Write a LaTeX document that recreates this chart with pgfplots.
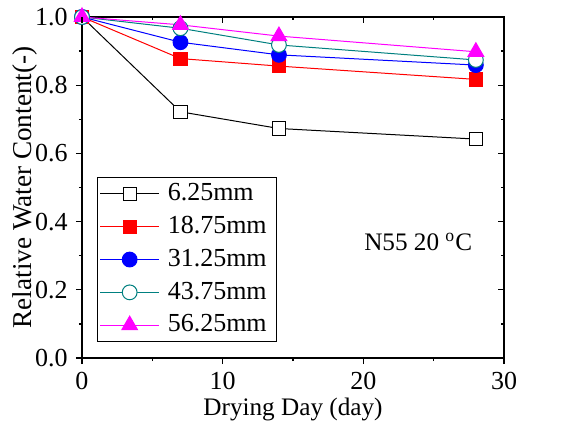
\documentclass[border=0pt]{standalone}
\usepackage{fontspec}
\setmainfont{Liberation Serif}
\usepackage{pgfplots}
\pgfplotsset{compat=1.18}
\usetikzlibrary{calc}
\definecolor{tealc}{RGB}{0,128,128}
\definecolor{magc}{RGB}{255,0,255}

\begin{document}
\fontsize{12}{14}\selectfont
\begin{tikzpicture}
\pgfplotsset{
  frame/.style={
    scale only axis, width=211pt, height=170.5pt,
    xmin=0, xmax=30, ymin=0, ymax=1.0,
    xtick={0,10,20,30}, ytick={0,0.2,0.4,0.6,0.8,1.0},
    minor x tick num=1, minor y tick num=1,
    major tick length=3pt, minor tick length=1.6pt,
    axis line style={line width=0.6pt},
    every tick/.style={black, line width=0.6pt},
    tick label style={font=\fontsize{13}{15}\selectfont},
    /pgf/number format/assume math mode=true,
    /pgf/number format/.cd, fixed, fixed zerofill, precision=1,
  },
}
\begin{axis}[
  frame, name=ax,
  tick align=outside, xtick pos=bottom, ytick pos=left,
  xticklabel style={/pgf/number format/precision=0},
  xlabel={Drying Day (day)}, ylabel={Relative Water Content(-)},
  xlabel style={yshift=4pt, font=\fontsize{12.6}{15}\selectfont},
  ylabel style={yshift=-9.5pt, font=\fontsize{13.6}{15}\selectfont},
  legend style={at={(rel axis cs:0.036,0.047)}, anchor=south west,
    draw=black, line width=0.4pt, inner sep=1pt, row sep=2pt,
    font=\fontsize{13}{15}\selectfont,
    nodes={inner xsep=4pt}},
  legend cell align=left,
  legend image code/.code={\draw[mark repeat=2,mark phase=2]
    plot coordinates {(0cm,0cm) (0.52cm,0cm) (1.04cm,0cm)};},
]
\addplot[black, line width=0.5pt, mark=square*, mark size=3.3pt,
  mark options={fill=white, line width=0.5pt}]
  coordinates {(0,1.0) (7,0.722) (14,0.673) (28,0.642)};
\addlegendentry{6.25mm}
\addplot[red, line width=0.5pt, mark=square*, mark size=3.3pt,
  mark options={fill=red}]
  coordinates {(0,1.0) (7,0.878) (14,0.856) (28,0.817)};
\addlegendentry{18.75mm}
\addplot[blue, line width=0.5pt, mark=*, mark size=3.7pt,
  mark options={fill=blue}]
  coordinates {(0,1.0) (7,0.926) (14,0.889) (28,0.859)};
\addlegendentry{31.25mm}
\addplot[tealc, line width=0.5pt, mark=*, mark size=3.7pt,
  mark options={fill=white, line width=0.5pt}]
  coordinates {(0,1.0) (7,0.967) (14,0.918) (28,0.874)};
\addlegendentry{43.75mm}
\addplot[magc, line width=0.5pt, mark=triangle*, mark size=4.5pt,
  mark options={fill=magc}]
  coordinates {(0,1.0) (7,0.977) (14,0.944) (28,0.898)};
\addlegendentry{56.25mm}
\node[font=\fontsize{12.6}{15}\selectfont] at (axis cs:23.9,0.34) {N55 20 \textsuperscript{o}C};
\end{axis}
\begin{axis}[
  frame, tick align=inside, xtick pos=top, ytick pos=right,
  xticklabels={}, yticklabels={}, axis line style={draw=none},
]
\end{axis}
\path ($(ax.south west)+(-41pt,-33.5pt)$) rectangle ($(ax.south west)+(244.5pt,179pt)$);
\end{tikzpicture}
\end{document}
